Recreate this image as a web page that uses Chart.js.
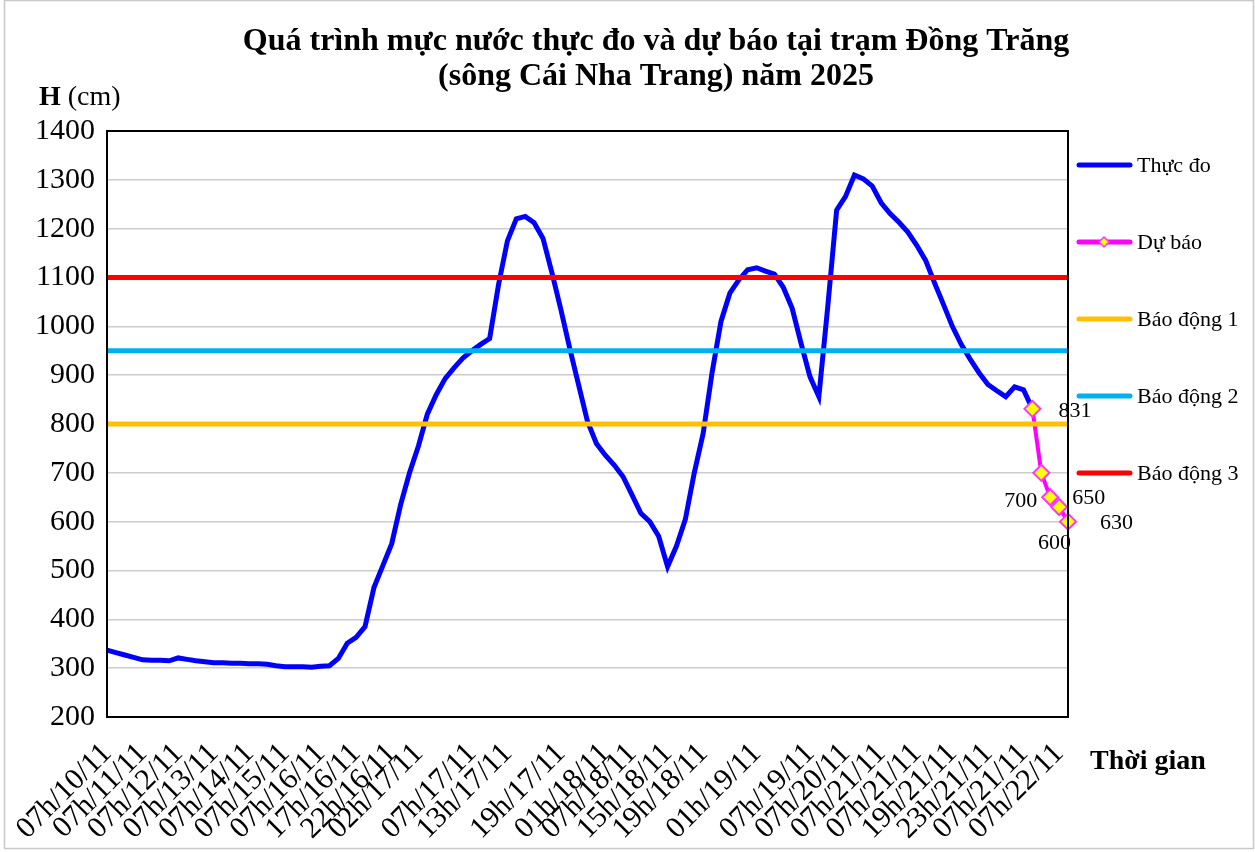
<!DOCTYPE html>
<html>
<head>
<meta charset="utf-8">
<script src="https://cdn.jsdelivr.net/npm/chart.js@4.4.1/dist/chart.umd.min.js"></script>
<style>
  html, body { margin: 0; padding: 0; background: #fff; }
</style>
</head>
<body>
<canvas id="chart" width="1255" height="852"></canvas>
<script>
// measured water level (cm), one value per time step
const observed = [
  337, 332, 327, 322, 317, 316, 316, 315, 321, 318,
  315, 313, 311, 311, 310, 310, 309, 309, 308, 305,
  303, 303, 303, 302, 304, 305, 320, 351, 363, 385,
  465, 510, 555, 635, 700, 755, 820, 860, 893, 915,
  935, 950, 963, 975, 1085, 1175, 1220, 1225, 1212, 1180,
  1110, 1035, 955, 880, 805, 760, 736, 716, 692, 655,
  617, 600, 570, 508, 550, 605, 700, 781, 905, 1010,
  1068, 1095, 1116, 1120, 1113, 1107, 1080, 1037, 965, 897,
  856, 1040, 1238, 1266, 1310, 1302, 1287, 1253, 1231, 1213,
  1193, 1166, 1135, 1089, 1045, 1000, 963, 933, 905, 881,
  868, 856, 876, 870, 831
];

// forecast, starting at the last observed step
const forecast = [831, 700, 650, 630, 600];

// alarm levels 1, 2, 3
const alarmLevels = [800, 950, 1100];
const alarmNames = ['Báo động 1', 'Báo động 2', 'Báo động 3'];
const alarmColors = ['#FFC000', '#00B0F0', '#FF0000'];

// time labels shown on the axis and the step they sit on
const labelSteps = [0, 4, 8, 12, 16, 20, 24, 28, 32, 35, 41, 45, 51, 56, 59, 63, 67, 73, 79, 83, 87, 91, 95, 99, 103, 107];
const labelTexts = [
  '07h/10/11', '07h/11/11', '07h/12/11', '07h/13/11', '07h/14/11', '07h/15/11', '07h/16/11',
  '17h/16/11', '22h/16/11', '02h/17/11', '07h/17/11', '13h/17/11', '19h/17/11', '01h/18/11',
  '07h/18/11', '15h/18/11', '19h/18/11', '01h/19/11', '07h/19/11', '07h/20/11', '07h/21/11',
  '07h/21/11', '19h/21/11', '23h/21/11', '07h/21/11', '07h/22/11'
];

const yTicks = { min: 200, max: 1400, step: 100 };

const SERIF = '"Liberation Serif", "Times New Roman", serif';
const forecastStart = observed.length - 1;
const steps = forecastStart + forecast.length;

const categories = new Array(steps).fill('');
labelSteps.forEach((s, i) => { categories[s] = labelTexts[i]; });

const forecastData = new Array(forecastStart).fill(null).concat(forecast);

const datasets = [
  {
    label: 'Thực đo',
    data: observed,
    borderColor: '#0000FF',
    borderWidth: 5,
    pointRadius: 0,
    tension: 0,
    order: 5
  },
  {
    label: 'Dự báo',
    data: forecastData,
    borderColor: '#FF00FF',
    borderWidth: 4,
    pointStyle: 'rectRot',
    pointRadius: 8,
    pointBackgroundColor: '#FFFF00',
    pointBorderColor: '#FF33FF',
    pointBorderWidth: 2,
    tension: 0,
    order: 4
  }
];
alarmLevels.forEach((level, i) => {
  datasets.push({
    label: alarmNames[i],
    data: new Array(steps).fill(level),
    borderColor: alarmColors[i],
    borderWidth: 5,
    pointRadius: 0,
    order: 3 - i
  });
});

// titles, legend, borders and forecast value labels
const decor = {
  id: 'decor',
  beforeDraw(chart) {
    const ctx = chart.ctx;
    ctx.save();
    ctx.fillStyle = '#fff';
    ctx.fillRect(0, 0, chart.width, chart.height);
    ctx.strokeStyle = '#c8c8c8';
    ctx.lineWidth = 1.5;
    ctx.strokeRect(4.5, 0.5, chart.width - 6, chart.height - 4);
    ctx.restore();
  },
  afterDraw(chart) {
    const ctx = chart.ctx;
    const area = chart.chartArea;
    ctx.save();

    // plot frame
    ctx.strokeStyle = '#000';
    ctx.lineWidth = 2;
    ctx.strokeRect(area.left, area.top, area.right - area.left, area.bottom - area.top);

    // title
    ctx.fillStyle = '#000';
    ctx.textAlign = 'center';
    ctx.textBaseline = 'middle';
    ctx.font = 'bold 32px ' + SERIF;
    ctx.fillText('Quá trình mực nước thực đo và dự báo tại trạm Đồng Trăng', 656, 42);
    ctx.fillText('(sông Cái Nha Trang) năm 2025', 656, 77);

    // axis titles
    ctx.textAlign = 'left';
    ctx.font = 'bold 28px ' + SERIF;
    ctx.fillText('H', 39, 98);
    const hw = ctx.measureText('H').width;
    ctx.font = '28px ' + SERIF;
    ctx.fillText(' (cm)', 39 + hw, 98);
    ctx.font = 'bold 28px ' + SERIF;
    ctx.fillText('Thời gian', 1090, 762);

    // legend
    ctx.font = '22px ' + SERIF;
    chart.data.datasets.forEach((ds, i) => {
      const y = 165 + i * 77;
      ctx.strokeStyle = ds.borderColor;
      ctx.lineWidth = 5;
      ctx.lineCap = 'round';
      ctx.beginPath();
      ctx.moveTo(1079, y);
      ctx.lineTo(1130, y);
      ctx.stroke();
      if (ds.pointStyle === 'rectRot') {
        ctx.fillStyle = ds.pointBackgroundColor;
        ctx.strokeStyle = ds.pointBorderColor;
        ctx.lineWidth = 1.5;
        ctx.beginPath();
        ctx.moveTo(1104, y - 5);
        ctx.lineTo(1109, y);
        ctx.lineTo(1104, y + 5);
        ctx.lineTo(1099, y);
        ctx.closePath();
        ctx.fill();
        ctx.stroke();
      }
      ctx.fillStyle = '#000';
      ctx.textAlign = 'left';
      ctx.fillText(ds.label, 1137, y + 1);
    });

    // forecast value labels
    const offsets = [[26, 2, 'left'], [-4, 28, 'right'], [22, 1, 'left'], [41, 16, 'left'], [3, 22, 'right']];
    const pts = chart.getDatasetMeta(1).data;
    ctx.font = '22px ' + SERIF;
    ctx.fillStyle = '#000';
    forecast.forEach((v, i) => {
      const p = pts[forecastStart + i];
      const o = offsets[i];
      ctx.textAlign = o[2];
      ctx.fillText(String(v), p.x + o[0], p.y + o[1]);
    });

    ctx.restore();
  }
};

new Chart(document.getElementById('chart').getContext('2d'), {
  type: 'line',
  data: { labels: categories, datasets: datasets },
  options: {
    responsive: false,
    animation: false,
    layout: { padding: { left: 0, right: 187, top: 131, bottom: 0 } },
    plugins: {
      legend: { display: false },
      title: { display: false },
      tooltip: { enabled: false }
    },
    scales: {
      x: {
        grid: { display: false, drawTicks: false },
        border: { display: true, color: '#000', width: 2 },
        ticks: {
          autoSkip: false,
          maxRotation: 45,
          minRotation: 45,
          padding: 19,
          color: '#000',
          font: { family: SERIF, size: 30 }
        },
        afterFit(scale) { scale.height = 135; }
      },
      y: {
        min: yTicks.min,
        max: yTicks.max,
        grid: { color: '#cccccc', lineWidth: 1.5, drawTicks: false },
        border: { display: true, color: '#000', width: 2 },
        ticks: {
          stepSize: yTicks.step,
          padding: 12,
          color: '#000',
          font: { family: SERIF, size: 30 },
          callback: (v) => String(v)
        },
        afterFit(scale) { scale.width = 107; }
      }
    }
  },
  plugins: [decor]
});
</script>
</body>
</html>
